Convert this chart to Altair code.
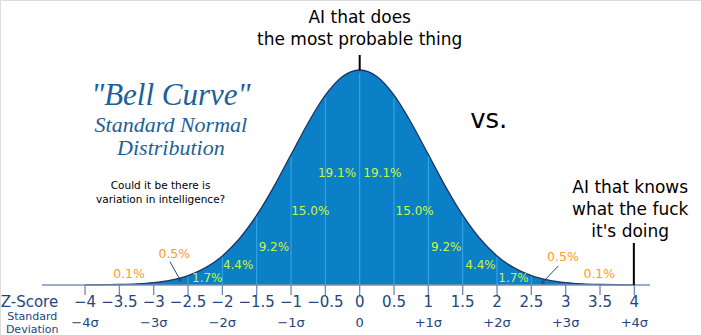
import altair as alt
import pandas as pd

# ---- data ----
z_vals = [-4.0, -3.75, -3.5, -3.25, -3.0, -2.75, -2.5, -2.25, -2.0, -1.75, -1.5, -1.25, -1.0,
          -0.75, -0.5, -0.25, 0.0, 0.25, 0.5, 0.75, 1.0, 1.25, 1.5, 1.75, 2.0, 2.25, 2.5,
          2.75, 3.0, 3.25, 3.5, 3.75, 4.0]
density = [0.0001, 0.0004, 0.0009, 0.0020, 0.0044, 0.0091, 0.0175, 0.0317, 0.0540, 0.0863,
           0.1295, 0.1826, 0.2420, 0.3011, 0.3521, 0.3867, 0.3989, 0.3867, 0.3521, 0.3011,
           0.2420, 0.1826, 0.1295, 0.0863, 0.0540, 0.0317, 0.0175, 0.0091, 0.0044, 0.0020,
           0.0009, 0.0004, 0.0001]

band_z = [-3.0, -2.5, -2.0, -1.5, -1.0, -0.5, 0.0, 0.5, 1.0, 1.5, 2.0, 2.5, 3.0]
band_top = [0.0044, 0.0175, 0.0540, 0.1295, 0.2420, 0.3521, 0.3989, 0.3521, 0.2420, 0.1295,
            0.0540, 0.0175, 0.0044]

tick_z = [-4.0, -3.5, -3.0, -2.5, -2.0, -1.5, -1.0, -0.5, 0.0, 0.5, 1.0, 1.5, 2.0, 2.5, 3.0, 3.5, 4.0]
tick_labels = ["\u22124", "\u22123.5", "\u22123", "\u22122.5", "\u22122", "\u22121.5", "\u22121", "\u22120.5",
               "0", "0.5", "1", "1.5", "2", "2.5", "3", "3.5", "4"]
sigma_z = [-4, -3, -2, -1, 0, 1, 2, 3, 4]
sigma_labels = ["\u22124\u03c3", "\u22123\u03c3", "\u22122\u03c3", "\u22121\u03c3", "0",
                "+1\u03c3", "+2\u03c3", "+3\u03c3", "+4\u03c3"]

pct_labels = ["19.1%", "19.1%", "15.0%", "15.0%", "9.2%", "9.2%", "4.4%", "4.4%", "1.7%", "1.7%"]
pct_z = [-0.33, 0.33, -0.72, 0.80, -1.25, 1.26, -1.77, 1.76, -2.22, 2.24]
pct_y = [0.2078, 0.2078, 0.1373, 0.1373, 0.0710, 0.0710, 0.0371, 0.0371, 0.0135, 0.0135]

tail_labels = ["0.5%", "0.5%", "0.1%", "0.1%"]
tail_z = [-2.70, 2.96, -3.36, 3.49]
tail_y = [0.0575, 0.0520, 0.0204, 0.0204]

# ---- scales ----
X = alt.Scale(domain=[-5.239, 4.971], nice=False, zero=False)
Y = alt.Scale(domain=[-0.0928, 0.5288], nice=False, zero=False)

def xq(f="z"):
    return alt.X(f"{f}:Q", scale=X, axis=None)

def yq(f="y"):
    return alt.Y(f"{f}:Q", scale=Y, axis=None)

SANS = "DejaVu Sans"
curve = pd.DataFrame({"z": z_vals, "y": density})

area = alt.Chart(curve).mark_area(color="#0b80c6", interpolate="monotone").encode(x=xq(), y=yq())
outline = alt.Chart(curve).mark_line(color="#1c3464", strokeWidth=1.3, interpolate="monotone").encode(x=xq(), y=yq())

bands = pd.DataFrame({"z": band_z, "y": [0.0] * len(band_z), "y2": [t * 0.985 for t in band_top]})
band_rules = alt.Chart(bands).mark_rule(color="#3aa8ee", strokeWidth=1).encode(
    x=xq(), y=yq(), y2="y2:Q")

axis_line = alt.Chart(pd.DataFrame({"z": [-4.627], "z2": [4.228], "y": [0.0]})).mark_rule(
    color="#7890b4", strokeWidth=1.5).encode(x=xq(), x2="z2:Q", y=yq())

ticks = pd.DataFrame({"z": tick_z, "y": [0.0] * len(tick_z), "y2": [-0.0186] * len(tick_z),
                      "lab": tick_labels, "ly": [-0.0315] * len(tick_z)})
tick_rules = alt.Chart(ticks).mark_rule(color="#6f88ae", strokeWidth=1.3).encode(
    x=xq(), y=yq(), y2="y2:Q")
tick_text = alt.Chart(ticks).mark_text(font=SANS, fontSize=15, color="#24457e", baseline="middle").encode(
    x=xq(), y=yq("ly"), text="lab:N")

sig = pd.DataFrame({"z": sigma_z, "y": [-0.070] * len(sigma_z), "lab": sigma_labels})
sig_text = alt.Chart(sig).mark_text(font=SANS, fontSize=13, color="#24457e", baseline="middle").encode(
    x=xq(), y=yq(), text="lab:N")

side = pd.DataFrame({"z": [-4.81, -4.77, -4.77], "y": [-0.0315, -0.0594, -0.0835],
                     "lab": ["Z-Score", "Standard", "Deviation"], "fs": [15, 11, 11]})
side_text = alt.Chart(side).mark_text(font=SANS, color="#24457e", baseline="middle").encode(
    x=xq(), y=yq(), text="lab:N", size=alt.Size("fs:Q", scale=None, legend=None))

pct = pd.DataFrame({"z": pct_z, "y": pct_y, "lab": pct_labels})
pct_text = alt.Chart(pct).mark_text(font=SANS, fontSize=12, color="#cdf53b", baseline="middle").encode(
    x=xq(), y=yq(), text="lab:N")

tail = pd.DataFrame({"z": tail_z, "y": tail_y, "lab": tail_labels})
tail_text = alt.Chart(tail).mark_text(font=SANS, fontSize=12.5, color="#ff9d1a", baseline="middle").encode(
    x=xq(), y=yq(), text="lab:N")

arrows = pd.DataFrame({"z": [-2.763, 2.892], "y": [0.0433, 0.0353], "z2": [-2.617, 2.665], "y2": [0.0096, 0.0050],
                       "ang": [151, 224]})
arrow_lines = alt.Chart(arrows).mark_rule(color="#2a4a80", strokeWidth=1).encode(
    x=xq(), y=yq(), x2="z2:Q", y2="y2:Q")
arrow_heads = alt.Chart(arrows).mark_point(shape="triangle", filled=True, size=22, color="#2a4a80", opacity=1).encode(
    x=xq("z2"), y=yq("y2"), angle=alt.Angle("ang:Q", scale=None))

pointers = pd.DataFrame({"z": [0.0, 3.993], "y": [0.4268, 0.0780], "y2": [0.3989, 0.0]})
pointer_rules = alt.Chart(pointers).mark_rule(color="#000000", strokeWidth=2).encode(
    x=xq(), y=yq(), y2="y2:Q")

notes = pd.DataFrame({
    "z": [0.0, 0.0, 1.88, 3.94, 3.94, 3.94, -2.90, -2.90],
    "y": [0.4954, 0.4546, 0.3060, 0.1800, 0.1390, 0.0983, 0.1830, 0.1570],
    "lab": ["AI that does", "the most probable thing", "vs.", "AI that knows", "what the fuck",
            "it's doing", "Could it be there is", "variation in intelligence?"],
    "fs": [17, 17, 26, 17, 17, 17, 10.5, 10.5]})
note_text = alt.Chart(notes).mark_text(font=SANS, color="#000000", baseline="middle").encode(
    x=xq(), y=yq(), text="lab:N", size=alt.Size("fs:Q", scale=None, legend=None))

titles = pd.DataFrame({
    "z": [-2.75, -2.75, -2.75],
    "y": [0.3507, 0.2969, 0.2542],
    "lab": ["\"Bell Curve\"", "Standard Normal", "Distribution"],
    "fs": [31, 22, 22]})
title_text = alt.Chart(titles).mark_text(font="Liberation Serif", fontStyle="italic", color="#1d5f98",
                                         baseline="middle").encode(
    x=xq(), y=yq(), text="lab:N", size=alt.Size("fs:Q", scale=None, legend=None))

chart = alt.layer(area, band_rules, outline, axis_line, tick_rules, tick_text, sig_text, side_text,
                  pct_text, tail_text, arrow_lines, arrow_heads, pointer_rules, note_text, title_text
                  ).properties(
    width=701, height=335, autosize=alt.AutoSizeParams(type="none"), padding=0
).configure_view(stroke=None).configure(background="white")

chart.save("out.html", embed_options={"renderer": "svg", "actions": False})
